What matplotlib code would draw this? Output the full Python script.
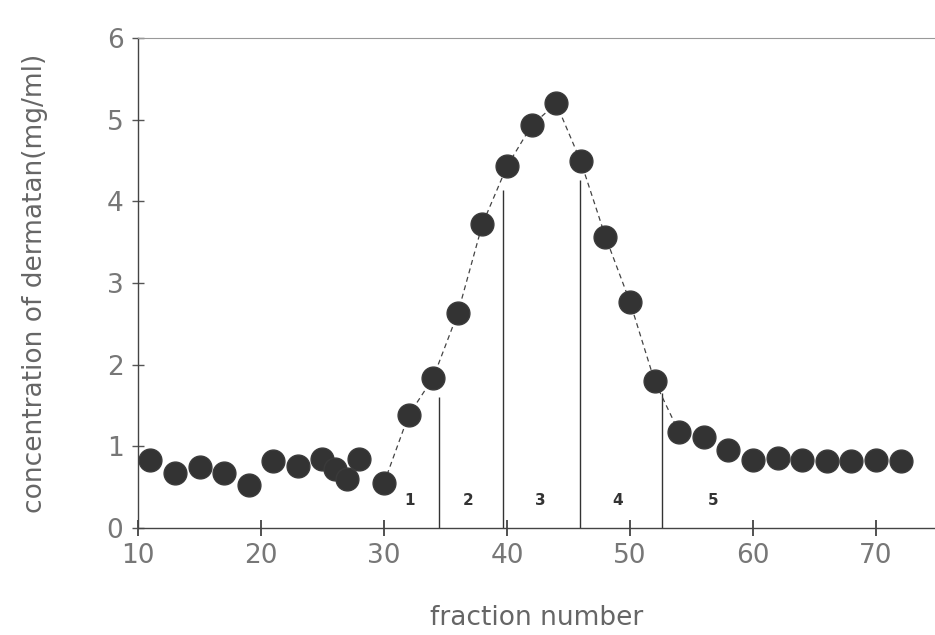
import matplotlib.pyplot as plt

# fraction numbers and dermatan concentration (mg/ml)
fractions = [11, 13, 15, 17, 19, 21, 23, 25, 26, 27, 28, 30, 32, 34, 36, 38, 40, 42,
             44, 46, 48, 50, 52, 54, 56, 58, 60, 62, 64, 66, 68, 70, 72]
conc = [0.83, 0.67, 0.75, 0.67, 0.53, 0.82, 0.76, 0.84, 0.72, 0.60, 0.84, 0.55, 1.38,
        1.84, 2.63, 3.72, 4.43, 4.93, 5.20, 4.49, 3.57, 2.77, 1.80, 1.17, 1.11, 0.95,
        0.83, 0.86, 0.83, 0.82, 0.82, 0.83, 0.82]

# pool boundaries (fraction, height of the line)
cut_x = [34.5, 39.7, 45.9, 52.6]
cut_top = [1.6, 4.14, 4.26, 1.65]
pool_labels = ["1", "2", "3", "4", "5"]
pool_x = [32.1, 36.8, 42.7, 49.0, 56.8]

fig = plt.figure(figsize=(9.35, 6.35), dpi=100, facecolor='w')
ax = fig.add_axes([0.1476, 0.1685, 0.8524, 0.7715])

# dashed line only over the peak
i0 = fractions.index(30)
i1 = fractions.index(54)
ax.plot(fractions[i0:i1 + 1], conc[i0:i1 + 1], color='#444444', lw=0.9,
        dashes=(4, 3), zorder=2)
ax.scatter(fractions, conc, s=270, color='#333333', edgecolors='#3a3a3a', zorder=3)

for x, top in zip(cut_x, cut_top):
    ax.vlines(x, 0, top, color='#333333', lw=1.0, zorder=1)
for lab, x in zip(pool_labels, pool_x):
    ax.text(x, 0.34, lab, ha='center', va='center', fontsize=11,
            fontweight='bold', color='#333333')

ax.set_xlim(10, 74.8)
ax.set_ylim(0, 6)
ax.set_xticks([10, 20, 30, 40, 50, 60, 70])
ax.set_yticks([0, 1, 2, 3, 4, 5, 6])
ax.tick_params(axis='x', direction='inout', length=12, width=1.2, colors='#333333',
               labelcolor='#777777', labelsize=19, pad=5)
ax.tick_params(axis='y', direction='inout', length=9, width=1.0, colors='#555555',
               labelcolor='#777777', labelsize=19, pad=6)
for s in ['left', 'bottom']:
    ax.spines[s].set_color('#444444')
    ax.spines[s].set_linewidth(1.0)
ax.spines['top'].set_color('#999999')
ax.spines['right'].set_visible(False)

ax.set_xlabel("fraction number", fontsize=19, color='#666666', labelpad=26)
ax.set_ylabel("concentration of dermatan(mg/ml)", fontsize=19, color='#666666', labelpad=42)

fig.savefig("out.png", dpi=100)
